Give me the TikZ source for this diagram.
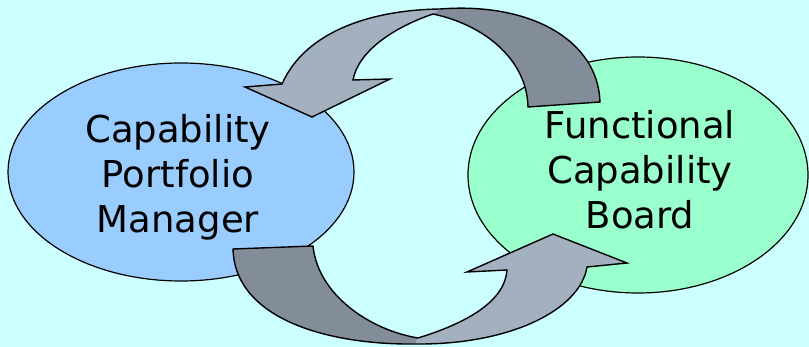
\documentclass[tikz,border=0pt]{standalone}
\usepackage{fontspec}
\newfontfamily\verd{DejaVu Sans}
\usetikzlibrary{shapes.geometric}
\definecolor{bg}{HTML}{CCFFFF}
\definecolor{cpmfill}{HTML}{99CCFF}
\definecolor{fcbfill}{HTML}{99FFCC}
\definecolor{arrlight}{HTML}{A2B0C0}
\definecolor{arrdark}{HTML}{838C99}
\begin{document}
\begin{tikzpicture}[x=1pt,y=-1pt,
  oval/.style={ellipse, draw=black, line width=1.2pt, inner sep=0pt},
  lbl/.style={font=\verd\fontsize{37}{45}\selectfont, align=center, inner sep=0pt},
  outline/.style={draw=black, line width=1.4pt, line join=miter}]
\fill[bg] (0,0) rectangle (809,347);
\useasboundingbox (0,0) rectangle (809,347);
% ellipses
\node[oval, fill=cpmfill, minimum width=346pt, minimum height=218pt] (cpm) at (181,172) {};
\node[oval, fill=fcbfill, minimum width=340pt, minimum height=236pt] (fcb) at (638,175) {};
\node[lbl] (cpmtext) at (178,177.5) {Capability\\Portfolio\\Manager};
\node[lbl] (fcbtext) at (640,170) {Functional\\Capability\\Board};
% top curved arrow
\fill[arrlight] (433,14) -- (440,9) .. controls (370,10) and (305,32) .. (282,84) -- (245,87) -- (312,117) -- (390,79) -- (353,80) .. controls (358,52) and (392,28) .. (433,14) -- cycle;
\fill[arrdark] (528,107) -- (600,102) .. controls (598,40) and (530,2) .. (440,9) -- (433,14) .. controls (485,25) and (527,60) .. (528,107) -- cycle;
\draw[outline] (528,107) -- (600,102) .. controls (598,40) and (530,2) .. (440,9) .. controls (370,10) and (305,32) .. (282,84) -- (245,87) -- (312,117) -- (390,79) -- (353,80) .. controls (358,52) and (392,28) .. (433,14) .. controls (485,25) and (527,60) .. (528,107) -- cycle;
% bottom curved arrow
\fill[arrdark] (233,249) -- (313,246) .. controls (318,295) and (370,330) .. (418,338) -- (415,344) .. controls (330,345) and (235,320) .. (233,249) -- cycle;
\fill[arrlight] (418,338) .. controls (470,322) and (505,300) .. (507,270) -- (467,272) -- (553,234) -- (627,263) -- (587,267) .. controls (580,310) and (510,345) .. (415,344) -- cycle;
\draw[outline] (233,249) -- (313,246) .. controls (318,295) and (370,330) .. (418,338) .. controls (470,322) and (505,300) .. (507,270) -- (467,272) -- (553,234) -- (627,263) -- (587,267) .. controls (580,310) and (510,345) .. (415,344) .. controls (330,345) and (235,320) .. (233,249) -- cycle;
\end{tikzpicture}
\end{document}
